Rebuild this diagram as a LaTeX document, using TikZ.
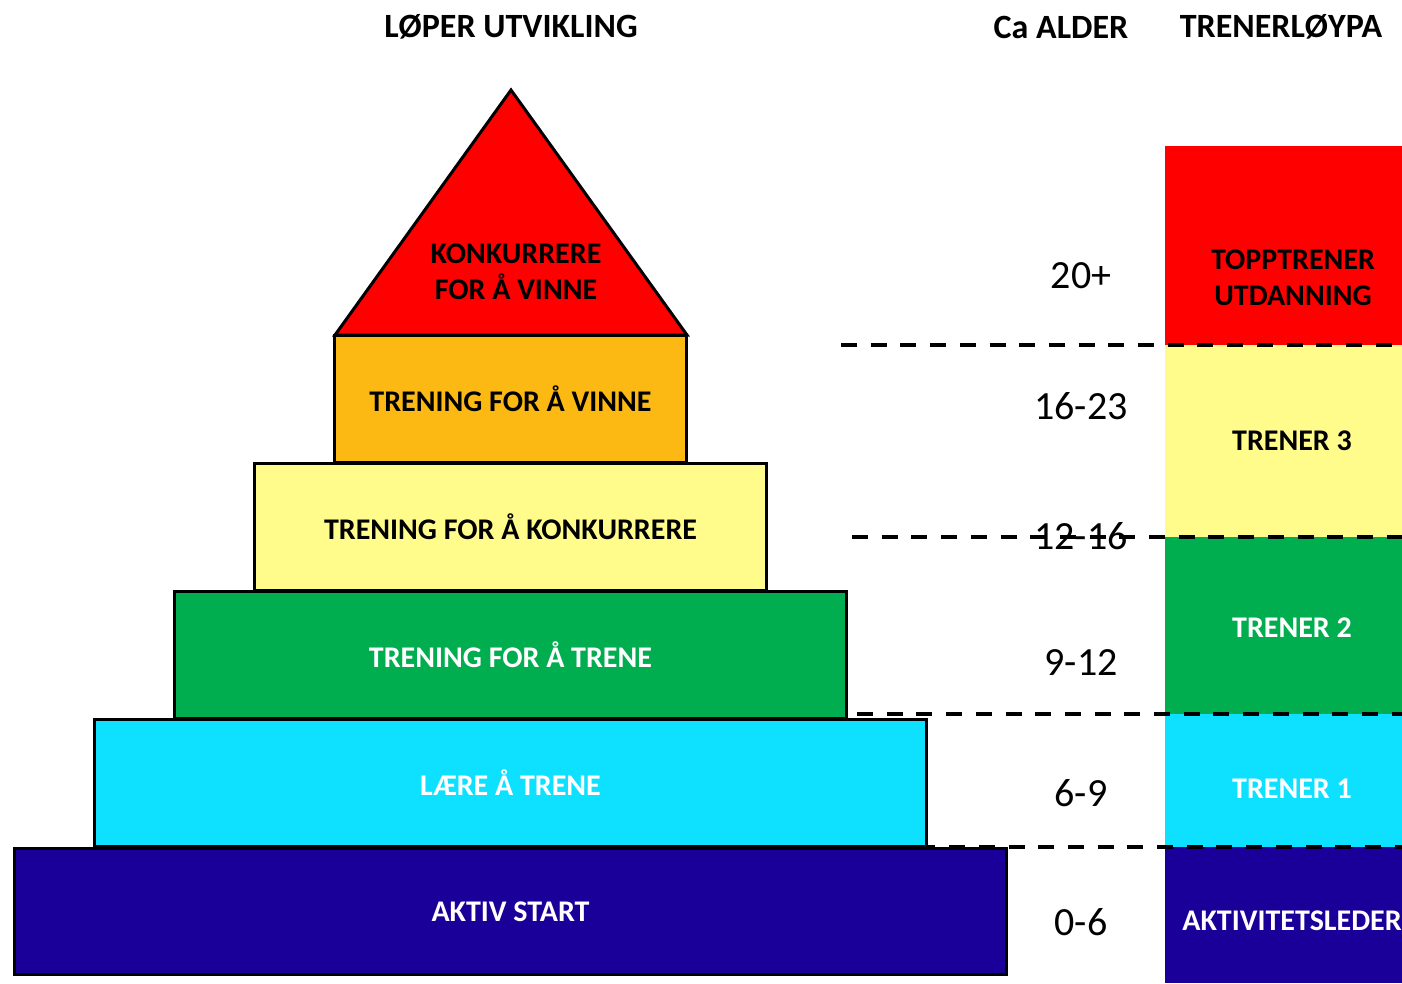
\documentclass[tikz,border=0pt]{standalone}
\usepackage{fontspec}
\setmainfont{Carlito}
\definecolor{cred}{HTML}{FF0000}
\definecolor{corange}{HTML}{FDB913}
\definecolor{cyellow}{HTML}{FFFC8C}
\definecolor{cgreen}{HTML}{00AE50}
\definecolor{ccyan}{HTML}{0EE1FF}
\definecolor{cnavy}{HTML}{1A0099}
\tikzset{
  tier/.style={draw=black, line width=3pt, inner sep=0pt, outer sep=0pt, font=\bfseries\fontsize{30}{36}\selectfont, align=center},
  bandlabel/.style={font=\bfseries\fontsize{30}{36}\selectfont, align=center},
  agelabel/.style={font=\fontsize{40}{46}\selectfont},
  header/.style={font=\bfseries\fontsize{34}{40}\selectfont},
  divider/.style={line width=3.5pt, dash pattern=on 16pt off 13.7pt}
}
\begin{document}
\begin{tikzpicture}[x=1pt, y=-1pt]
\useasboundingbox (0,0) rectangle (1402,983);
\fill[white] (0,0) rectangle (1402,983);

% headers
\node[header] (h1) at (511,27) {LØPER UTVIKLING};
\node[header] (h2) at (1061,27) {Ca ALDER};
\node[header] (h3) at (1281,27) {TRENERLØYPA};

% right column bands
\fill[cred]    (1165,146) rectangle (1402,345);
\fill[cyellow] (1165,345) rectangle (1402,537);
\fill[cgreen]  (1165,537) rectangle (1402,714);
\fill[ccyan]   (1165,714) rectangle (1402,847);
\fill[cnavy]   (1165,847) rectangle (1402,983);

\node[bandlabel, text=black] (r1) at (1293,278) {TOPPTRENER\\UTDANNING};
\node[bandlabel, text=black] (r2) at (1292,441) {TRENER 3};
\node[bandlabel, text=white] (r3) at (1292,628) {TRENER 2};
\node[bandlabel, text=white] (r4) at (1292,789) {TRENER 1};
\node[bandlabel, text=white] (r5) at (1292,921) {AKTIVITETSLEDER};

% pyramid
\draw[line width=3pt, line join=miter, fill=cred] (511,90) -- (687,335) -- (335,335) -- cycle;
\node[bandlabel] (t0) at (516,272) {KONKURRERE\\FOR Å VINNE};
\node[tier, fill=corange, minimum width=352pt, minimum height=127pt] (t1) at (510.5,399) {TRENING FOR Å VINNE};
\node[tier, fill=cyellow, minimum width=512pt, minimum height=127pt] (t2) at (510.5,527) {TRENING FOR Å KONKURRERE};
\node[tier, fill=cgreen, text=white, minimum width=672pt, minimum height=127pt] (t3) at (510.5,655) {TRENING FOR Å TRENE};
\node[tier, fill=ccyan, text=white, minimum width=832pt, minimum height=127pt] (t4) at (510.5,783) {LÆRE Å TRENE};
\node[tier, fill=cnavy, text=white, minimum width=992pt, minimum height=126pt] (t5) at (510.5,911.5) {AKTIV START};

% ages
\node[agelabel] (a1) at (1081,276) {20+};
\node[agelabel] (a2) at (1081,406) {16-23};
\node[agelabel] (a3) at (1081,536) {12-16};
\node[agelabel] (a4) at (1081,663) {9-12};
\node[agelabel] (a5) at (1081,793) {6-9};
\node[agelabel] (a6) at (1081,922) {0-6};

% dashed dividers
\coordinate (d1a) at (841,345); \coordinate (d1b) at (1402,345);
\coordinate (d2a) at (852,537); \coordinate (d2b) at (1402,537);
\coordinate (d3a) at (857,714); \coordinate (d3b) at (1402,714);
\coordinate (d4a) at (860,847); \coordinate (d4b) at (1402,847);
\draw[divider] (d1a) -- (d1b);
\draw[divider] (d2a) -- (d2b);
\draw[divider] (d3a) -- (d3b);
\draw[divider] (d4a) -- (d4b);
\end{tikzpicture}
\end{document}
